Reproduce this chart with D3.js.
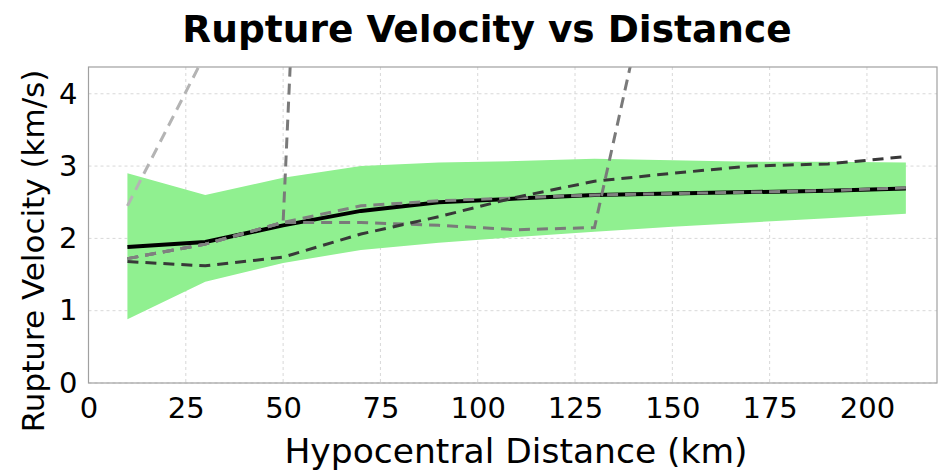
<!DOCTYPE html>
<html>
<head>
<meta charset="utf-8">
<script src="https://cdn.jsdelivr.net/npm/d3@7"></script>
<style>
  body { margin: 0; background: #fff; }
  text { font-family: "DejaVu Sans", sans-serif; }
</style>
</head>
<body>
<div id="chart"></div>
<script>
// distances (km)
var distances = [10, 30, 50, 70, 90, 110, 130, 150, 170, 190, 210];

// mean rupture velocity and spread band
var meanVel  = [1.88, 1.95, 2.18, 2.38, 2.50, 2.55, 2.60, 2.62, 2.64, 2.66, 2.69];
var bandHigh = [2.90, 2.60, 2.84, 3.00, 3.05, 3.07, 3.10, 3.08, 3.06, 3.06, 3.05];
var bandLow  = [0.88, 1.40, 1.66, 1.84, 1.94, 2.02, 2.09, 2.16, 2.22, 2.28, 2.34];

// individual runs (dashed)
var run1 = [2.45, 4.55, 6.5, 8.0, 9.0, 9.5, 10.0, 10.5, 11.0, 11.0, 11.0];
var run2 = [1.72, 1.92, 2.22, 2.22, 2.18, 2.12, 2.15, 7.0, 9.0, 10.0, 10.0];
var run3 = [1.72, 1.92, 2.22, 26.0, 27.0, 27.0, 27.0, 27.0, 27.0, 27.0, 27.0];
var run4 = [1.68, 1.62, 1.74, 2.06, 2.30, 2.57, 2.79, 2.90, 3.00, 3.03, 3.13];
var run5 = [1.72, 1.92, 2.22, 2.45, 2.52, 2.56, 2.60, 2.62, 2.64, 2.66, 2.70];

var xTicks = [0, 25, 50, 75, 100, 125, 150, 175, 200];
var yTicks = [0, 1, 2, 3, 4];

var width = 939, height = 473;
var mLeft = 88.5, mRight = 937, mTop = 67, mBottom = 383;

var svg = d3.select("#chart").append("svg")
    .attr("width", width)
    .attr("height", height);

var x = d3.scaleLinear().domain([0, 218]).range([mLeft, mRight]);
var y = d3.scaleLinear().domain([0, 4.37]).range([mBottom, mTop]);

svg.append("clipPath").attr("id", "plotclip")
  .append("rect")
    .attr("x", mLeft).attr("y", mTop)
    .attr("width", mRight - mLeft).attr("height", mBottom - mTop);

// grid
svg.append("g").selectAll("line")
    .data(xTicks).enter().append("line")
    .attr("x1", d => x(d)).attr("x2", d => x(d))
    .attr("y1", mTop).attr("y2", mBottom)
    .style("stroke", "#d8d8d8")
    .style("stroke-width", 1)
    .style("stroke-dasharray", "3,3");

svg.append("g").selectAll("line")
    .data(yTicks).enter().append("line")
    .attr("x1", mLeft).attr("x2", mRight)
    .attr("y1", d => y(d)).attr("y2", d => y(d))
    .style("stroke", "#d8d8d8")
    .style("stroke-width", 1)
    .style("stroke-dasharray", "3,3");

var plot = svg.append("g").attr("clip-path", "url(#plotclip)");

// band
var area = d3.area()
    .x((d, i) => x(distances[i]))
    .y0((d, i) => y(bandLow[i]))
    .y1((d, i) => y(bandHigh[i]));

plot.append("path")
    .datum(distances)
    .attr("d", area)
    .style("fill", "#90f090")
    .style("stroke", "none");

var line = d3.line()
    .x((d, i) => x(distances[i]))
    .y(d => y(d));

// mean
plot.append("path")
    .datum(meanVel)
    .attr("d", line)
    .style("fill", "none")
    .style("stroke", "#000")
    .style("stroke-width", 4);

var runs = [
    { data: run1, color: "#b4b4b4" },
    { data: run2, color: "#7a7a7a" },
    { data: run3, color: "#7a7a7a" },
    { data: run5, color: "#808080" },
    { data: run4, color: "#383838" }
];

runs.forEach(function(r) {
    plot.append("path")
        .datum(r.data)
        .attr("d", line)
        .style("fill", "none")
        .style("stroke", r.color)
        .style("stroke-width", 3)
        .style("stroke-dasharray", "11,7");
});

// frame
svg.append("rect")
    .attr("x", mLeft).attr("y", mTop)
    .attr("width", mRight - mLeft).attr("height", mBottom - mTop)
    .style("fill", "none")
    .style("stroke", "#a0a0a0")
    .style("stroke-width", 1.2);

// axes
var xAxis = svg.append("g")
    .attr("transform", `translate(0,${mBottom})`)
    .call(d3.axisBottom(x).tickValues(xTicks).tickSize(0).tickPadding(14));
xAxis.select(".domain").remove();
xAxis.selectAll("text").style("font-size", "29px").style("fill", "#000")
    .style("font-family", "'DejaVu Sans', sans-serif");

var yAxis = svg.append("g")
    .attr("transform", `translate(${mLeft},0)`)
    .call(d3.axisLeft(y).tickValues(yTicks).tickFormat(d3.format("d")).tickSize(0).tickPadding(11));
yAxis.select(".domain").remove();
yAxis.selectAll("text").style("font-size", "29px").style("fill", "#000")
    .style("font-family", "'DejaVu Sans', sans-serif");

// labels
svg.append("text")
    .attr("x", 487).attr("y", 42)
    .attr("text-anchor", "middle")
    .style("font-size", "37.5px")
    .style("font-weight", "bold")
    .text("Rupture Velocity vs Distance");

svg.append("text")
    .attr("x", 516).attr("y", 463)
    .attr("text-anchor", "middle")
    .style("font-size", "34.5px")
    .text("Hypocentral Distance (km)");

svg.append("text")
    .attr("transform", "translate(44,251) rotate(-90)")
    .attr("text-anchor", "middle")
    .style("font-size", "31px")
    .text("Rupture Velocity (km/s)");
</script>
</body>
</html>
